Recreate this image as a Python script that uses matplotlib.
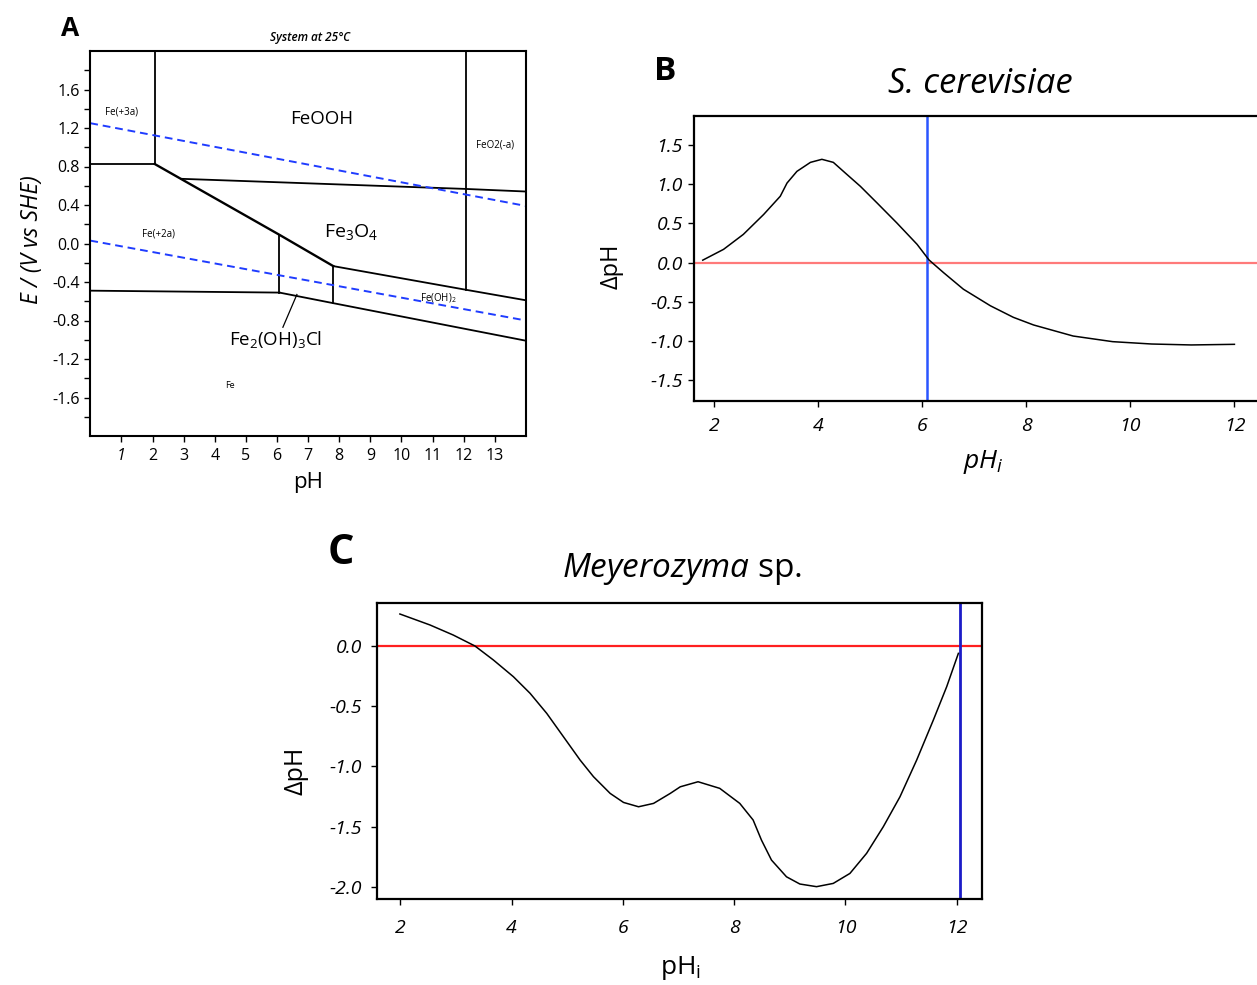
import numpy as np
import matplotlib.pyplot as plt

plt.rcParams['font.family'] = ['Open Sans', 'DejaVu Sans']
plt.rcParams['mathtext.fontset'] = 'custom'
plt.rcParams['mathtext.rm'] = 'Open Sans'
plt.rcParams['mathtext.it'] = 'Open Sans:italic'
plt.rcParams['mathtext.bf'] = 'Open Sans:bold'

W, H = 1257, 985

# ---- panel A : Pourbaix diagram boundaries (pH, E) ----
bounds_A = [
    ([2.07, 2.07], [0.826, 2.0]),
    ([0.0, 2.07], [0.826, 0.826]),
    ([2.93, 12.06, 14.0], [0.672, 0.567, 0.54]),
    ([12.06, 12.06], [-0.48, 2.0]),
    ([7.81, 12.06, 14.0], [-0.235, -0.48, -0.59]),
    ([7.81, 7.81], [-0.235, -0.62]),
    ([6.08, 6.08], [0.09, -0.51]),
    ([0.0, 6.08], [-0.49, -0.51]),
    ([6.08, 7.81, 14.0], [-0.51, -0.62, -1.01]),
]
diag_ph = [2.07, 6.08, 7.81]
diag_E = [0.826, 0.09, -0.235]
leader_ph = [6.64, 6.19]
leader_E = [-0.53, -0.87]
water_ph = [0.0, 14.0]
water_hi = [1.25, 0.39]
water_lo = [0.03, -0.80]

# region labels: text, pH, E, size
labels_A = [
    ('Fe(+3a)', 1.02, 1.37, 7),
    ('FeOOH', 7.44, 1.29, 13.5),
    ('FeO2(-a)', 13.0, 1.02, 7),
    ('Fe(+2a)', 2.18, 0.10, 7),
    ('Fe$_3$O$_4$', 8.4, 0.12, 14),
    ('Fe(OH)$_2$', 11.18, -0.57, 7),
    ('Fe$_2$(OH)$_3$Cl', 5.95, -1.0, 13.5),
    ('Fe', 4.49, -1.48, 6.5),
]

# ---- panel B : S. cerevisiae ----
ph_B = [1.78, 2.18, 2.56, 2.95, 3.27, 3.40, 3.59, 3.85, 4.07, 4.29, 4.52, 4.81,
        5.13, 5.51, 5.90, 6.13, 6.41, 6.79, 7.31, 7.75, 8.14, 8.90, 9.66,
        10.41, 11.17, 12.0]
d_B = [0.03, 0.168, 0.359, 0.613, 0.846, 1.015, 1.164, 1.279, 1.318, 1.279,
       1.143, 0.973, 0.761, 0.506, 0.232, 0.032, -0.13, -0.341, -0.553, -0.70,
       -0.798, -0.939, -1.011, -1.041, -1.053, -1.045]
blue_B = 6.1

# ---- panel C : Meyerozyma sp. ----
ph_C = [1.99, 2.53, 2.95, 3.34, 3.67, 4.03, 4.33, 4.63, 4.93, 5.23, 5.47, 5.77,
        6.01, 6.28, 6.55, 6.85, 7.03, 7.35, 7.74, 8.10, 8.34, 8.49, 8.67, 8.94,
        9.18, 9.48, 9.78, 10.08, 10.38, 10.68, 10.98, 11.28, 11.58, 11.82, 12.03]
d_C = [0.266, 0.175, 0.091, 0.0, -0.116, -0.255, -0.393, -0.56, -0.754, -0.948,
       -1.086, -1.225, -1.30, -1.336, -1.308, -1.225, -1.17, -1.128, -1.183,
       -1.308, -1.446, -1.613, -1.779, -1.918, -1.978, -2.0, -1.973, -1.89,
       -1.723, -1.502, -1.253, -0.948, -0.615, -0.338, -0.061]
blue_C = 12.06


def box(l, t, r, b):
    return [l / W, 1 - b / H, (r - l) / W, (b - t) / H]


def pt(x, y):
    return x / W, 1 - y / H


def fmt(vals):
    return ['%.1f' % (v + 0.0) for v in np.round(vals, 1) + 0.0]


fig = plt.figure(figsize=(W / 100, H / 100), dpi=100)

# ================= A =================
axA = fig.add_axes(box(90.3, 51, 525.9, 436))
for xs, ys in bounds_A:
    axA.plot(xs, ys, color='black', lw=1.3)
axA.plot(diag_ph, diag_E, color='black', lw=1.7)
axA.plot(leader_ph, leader_E, color='black', lw=0.9)
dash = (0, (4, 2.5))
axA.plot(water_ph, water_hi, color='#1f3cff', lw=1.4, linestyle=dash)
axA.plot(water_ph, water_lo, color='#1f3cff', lw=1.4, linestyle=dash)
for txt, x, y, s in labels_A:
    axA.text(x, y, txt, fontsize=s, ha='center', va='center')
axA.set_xlim(0, 14)
axA.set_ylim(-2, 2)
axA.set_xticks(range(1, 14))
yA = np.round(np.arange(-1.6, 1.61, 0.4), 1)
axA.set_yticks(yA)
axA.set_yticks(np.round(np.arange(-1.8, 1.81, 0.4), 1), minor=True)
axA.set_yticklabels([('%.1f' % v).replace('-0.0', '0.0') for v in yA])
axA.tick_params(which='both', direction='out', length=4, width=1, labelsize=11.5)
axA.tick_params(axis='x', pad=5)
axA.get_xticklabels()[0].set_style('italic')
for s in axA.spines.values():
    s.set_linewidth(1.5)
fig.text(*pt(32, 240), 'E / (V vs SHE)', rotation=90, style='italic',
         fontsize=16.5, ha='center', va='center')
fig.text(*pt(308, 482), 'pH', fontsize=16, ha='center', va='center')
fig.text(*pt(310, 38), 'System at 25°C', style='italic', fontsize=8.5,
         fontweight='semibold', ha='center', va='center')
fig.text(*pt(70, 28), 'A', fontsize=19, fontweight='bold', ha='center', va='center')

# ================= B =================
axB = fig.add_axes(box(693.9, 115.7, 1262, 400.7))
axB.axhline(0, color='#ff7a7a', lw=1.6)
axB.axvline(blue_B, color='#2a55ff', lw=1.8)
axB.plot(ph_B, d_B, color='black', lw=1.1)
axB.set_xlim(1.61, 12.53)
axB.set_ylim(-1.765, 1.875)
axB.set_xticks(range(2, 13, 2))
yB = np.round(np.arange(-1.5, 1.51, 0.5), 1)
axB.set_yticks(yB)
axB.set_yticklabels([('%.1f' % v).replace('-0.0', '0.0') for v in yB])
axB.tick_params(direction='out', length=4, width=1, labelsize=14)
axB.tick_params(axis='x', pad=8)
axB.tick_params(axis='y', pad=4)
for lab in axB.get_xticklabels() + axB.get_yticklabels():
    lab.set_style('italic')
for s in axB.spines.values():
    s.set_linewidth(1.6)
fig.text(*pt(612, 266), 'ΔpH', rotation=90, fontsize=17, ha='center', va='center')
fig.text(*pt(983, 462), '$pH_i$', fontsize=19, ha='center', va='center')
fig.text(*pt(980, 84), 'S. cerevisiae', style='italic', fontsize=25,
         ha='center', va='center')
fig.text(*pt(665, 72), 'B', fontsize=24, fontweight='bold', ha='center', va='center')

# ================= C =================
axC = fig.add_axes(box(377.1, 603.3, 982.3, 899.3))
axC.axhline(0, color='#ff1f1f', lw=1.6)
axC.axvline(blue_C, color='#1c1cc8', lw=2.0)
axC.plot(ph_C, d_C, color='black', lw=1.1)
axC.set_xlim(1.58, 12.46)
axC.set_ylim(-2.105, 0.355)
axC.set_xticks(range(2, 13, 2))
yC = np.round(np.arange(-2.0, 0.01, 0.5), 1)
axC.set_yticks(yC)
axC.set_yticklabels([('%.1f' % v).replace('-0.0', '0.0') for v in yC])
axC.tick_params(direction='out', length=4, width=1, labelsize=14)
axC.tick_params(axis='x', pad=10)
axC.tick_params(axis='y', pad=7)
for lab in axC.get_xticklabels() + axC.get_yticklabels():
    lab.set_style('italic')
for s in axC.spines.values():
    s.set_linewidth(1.6)
fig.text(*pt(296, 771), 'ΔpH', rotation=90, fontsize=18, ha='center', va='center')
fig.text(*pt(681, 968), 'pH$_\\mathrm{i}$', fontsize=19, ha='center', va='center')
fig.text(*pt(682, 569), '$\\mathit{Meyerozyma}$ sp.', fontsize=24,
         ha='center', va='center')
fig.text(*pt(341, 553), 'C', fontsize=30, fontweight='bold', ha='center', va='center')

fig.savefig('out.png', dpi=100)
